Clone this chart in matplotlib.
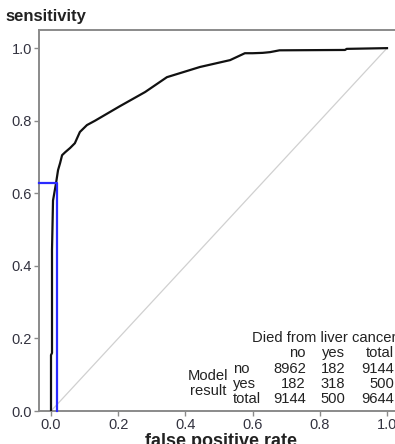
import matplotlib.pyplot as plt
import numpy as np

plt.rcParams['font.family'] = ['Liberation Sans', 'DejaVu Sans']

# ROC curve
fpr = [0.0, 0.0, 0.003, 0.003, 0.006, 0.015, 0.021, 0.027, 0.033, 0.042, 0.057,
       0.071, 0.086, 0.107, 0.131, 0.205, 0.28, 0.345, 0.443, 0.533, 0.577,
       0.60, 0.63, 0.652, 0.68, 0.875, 0.88, 1.0]
tpr = [0.0, 0.154, 0.16, 0.444, 0.58, 0.628, 0.664, 0.683, 0.705, 0.713, 0.725,
       0.738, 0.769, 0.788, 0.80, 0.84, 0.879, 0.92, 0.948, 0.967, 0.986,
       0.986, 0.987, 0.989, 0.994, 0.995, 0.998, 1.0]

cut_fpr = 0.019
cut_tpr = 0.627

col_heads = ['no', 'yes', 'total']
row_heads = ['no', 'yes', 'total']
counts = [[8962, 182, 9144],
          [182, 318, 500],
          [9144, 500, 9644]]

W, H = 395, 444
fig = plt.figure(figsize=(W / 100, H / 100), dpi=100)
ax = fig.add_axes([39 / W, 33 / H, 361 / W, 381 / H])

x0px, x1px = 51, 387
def px2x(p):
    return (p - x0px) / (x1px - x0px)

ax.set_xlim(px2x(39), px2x(400))
ax.set_ylim(0, 1.05)

ax.plot([0, 1], [0, 1], color='#d0d0d0', lw=0.9, zorder=1)
ax.plot(fpr, tpr, color='#111111', lw=1.6, zorder=3, solid_joinstyle='round')
ax.plot([px2x(39), cut_fpr, cut_fpr], [cut_tpr, cut_tpr, 0], color='#2a2aff',
        lw=1.6, zorder=4, clip_on=False)

for s in ['top', 'left', 'bottom', 'right']:
    ax.spines[s].set_color('#8a8a8a')
    ax.spines[s].set_linewidth(1.4)

ticks = [0.0, 0.2, 0.4, 0.6, 0.8, 1.0]
ax.set_xticks(ticks)
ax.set_yticks(ticks)
ax.set_xticklabels(['%.1f' % t for t in ticks])
ax.set_yticklabels(['%.1f' % t for t in ticks])
ax.tick_params(colors='#8a8a8a', labelcolor='#333340', labelsize=10.5,
               length=3.5, width=1, pad=1.5)

fig.text(5 / W, 1 - 17 / H, 'sensitivity', fontsize=12, fontweight='bold',
         color='#222222', va='center', ha='left')
fig.text(221 / W, 1 - 441 / H, 'false positive rate', fontsize=13,
         fontweight='bold', color='#222222', va='center', ha='center')

# contingency table
fs = 10.6
tc = '#222222'
def t(xp, yp, s, ha):
    fig.text(xp / W, 1 - yp / H, s, fontsize=fs, color=tc, ha=ha, va='center')

t(252, 338, 'Died from liver cancer', 'left')
col_x = [306, 345, 394]
row_y = [369, 384, 399]
for cx, h in zip(col_x, col_heads):
    t(cx, 353, h, 'right')
for ry, h, row in zip(row_y, row_heads, counts):
    t(233, ry, h, 'left')
    for cx, v in zip(col_x, row):
        t(cx, ry, str(v), 'right')
t(208, 376, 'Model', 'center')
t(208, 391, 'result', 'center')

fig.savefig('out.png', dpi=100)
